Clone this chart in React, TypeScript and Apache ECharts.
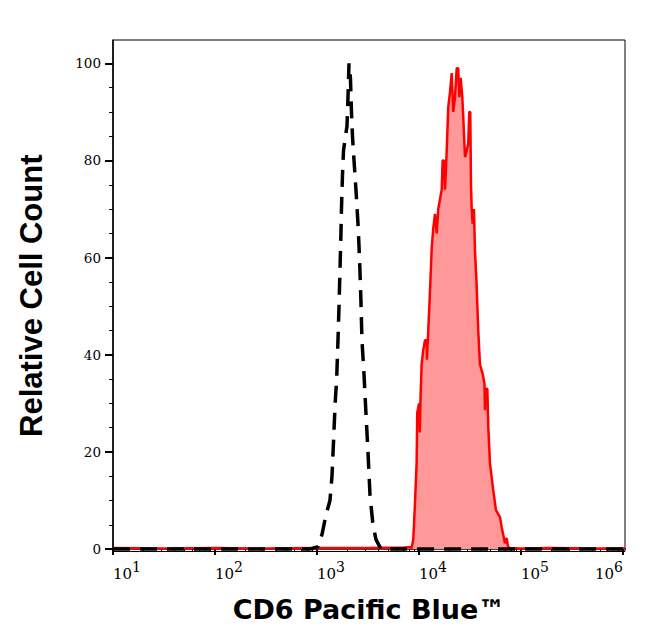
import React, { useEffect, useRef } from "react";
import * as echarts from "echarts";

// x values are log10 of fluorescence intensity (CD6 Pacific Blue); y is relative cell count
const stainedLogX = [1.0, 1.5, 2.0, 2.5, 3.0, 3.5, 3.85, 3.912, 3.928, 3.944, 3.961, 3.977, 3.983, 4.0, 4.008, 4.015, 4.026, 4.042, 4.059, 4.074, 4.078, 4.091, 4.108, 4.125, 4.14, 4.157, 4.174, 4.189, 4.206, 4.223, 4.232, 4.245, 4.255, 4.272, 4.287, 4.304, 4.321, 4.336, 4.353, 4.37, 4.385, 4.395, 4.409, 4.425, 4.434, 4.451, 4.468, 4.483, 4.493, 4.503, 4.51, 4.517, 4.526, 4.539, 4.549, 4.564, 4.581, 4.598, 4.625, 4.642, 4.647, 4.657, 4.67, 4.68, 4.696, 4.728, 4.755, 4.794, 4.811, 4.843, 4.86, 4.873, 4.892, 5.0, 5.3, 5.7, 6.02];
const stainedCount = [0.2, 0.1, 0.2, 0.1, 0.2, 0.2, 0.3, 0.4, 0.2, 2, 9.5, 17.7, 28, 30, 24, 31, 38, 41, 43, 43, 39, 45, 53, 62, 66, 69, 65, 70, 72, 74, 80, 80, 74, 82, 91, 94, 98, 90, 93, 99, 99, 93, 97, 93, 89, 80.7, 82, 83.5, 90, 90, 75, 70, 67, 70, 61.5, 55, 45, 38, 36, 34, 28.6, 33, 33, 25, 17.7, 12.1, 8, 6.6, 4.5, 1.2, 2.3, 0.5, 0.2, 0.1, 0.2, 0.1, 0.1];

const controlLogX = [1.0, 2.0, 2.931, 3.01, 3.049, 3.088, 3.127, 3.147, 3.162, 3.172, 3.181, 3.193, 3.201, 3.206, 3.216, 3.225, 3.235, 3.24, 3.25, 3.26, 3.279, 3.294, 3.304, 3.314, 3.328, 3.338, 3.348, 3.363, 3.382, 3.402, 3.417, 3.431, 3.441, 3.461, 3.48, 3.5, 3.52, 3.549, 3.578, 3.627, 4.5, 5.5, 6.02];
const controlCount = [0, 0, 0, 0.5, 3, 7, 10, 15, 22, 27, 31, 35, 40, 43, 50, 57, 65, 70, 77, 82, 85, 87, 93, 100, 97, 90, 85, 80, 74, 67, 60, 51, 43, 36, 28, 20, 11, 5, 2, 0, 0, 0, 0];

const xMajorTicks = [1, 2, 3, 4, 5, 6];
const yLabelValues = [0, 20, 40, 60, 80, 100];
const yMinorValues = [5, 10, 15, 25, 30, 35, 45, 50, 55, 65, 70, 75, 85, 90, 95];

const xMinorTicks: number[] = [];
for (let d = 1; d <= 5; d++) {
  for (let k = 2; k <= 9; k++) xMinorTicks.push(d + Math.log10(k));
}

const X_MIN = 1;
const X_MAX = 6.02;
const Y_MIN = -0.5;
const Y_MAX = 104.8;

const serif = "'DejaVu Serif', serif";

export default function App() {
  const ref = useRef<HTMLDivElement>(null);
  useEffect(() => {
    if (!ref.current) return;
    const chart = echarts.init(ref.current, null, { renderer: "svg" });
    const stained = stainedLogX.map((x, i) => [x, stainedCount[i]]);
    const control = controlLogX.map((x, i) => [x, controlCount[i]]);
    chart.setOption({
      animation: false,
      backgroundColor: "#fff",
      grid: {
        left: 113,
        right: 21,
        top: 40,
        bottom: 89.5,
        show: true,
        borderColor: "#000",
        borderWidth: 1,
        backgroundColor: "transparent",
      },
      xAxis: [
        {
          type: "value",
          position: "bottom",
          min: X_MIN,
          max: X_MAX,
          splitLine: { show: false },
          axisLine: { show: true, lineStyle: { color: "#000", width: 1.5 } },
          axisTick: { show: true, customValues: xMajorTicks, length: 6, lineStyle: { color: "#000", width: 2 } },
          axisLabel: {
            show: true,
            customValues: xMajorTicks,
            align: "left",
            alignMaxLabel: "right",
            margin: 8,
            formatter: (v: number) => `{b|10}{s|${Math.round(v)}}`,
            rich: {
              b: { fontFamily: serif, fontSize: 15, color: "#000", verticalAlign: "bottom" },
              s: { fontFamily: serif, fontSize: 14, color: "#000", padding: [0, 0, 8, 0] },
            },
          },
          name: "CD6 Pacific Blue™",
          nameLocation: "middle",
          nameGap: 44,
          nameTextStyle: { fontFamily: "'DejaVu Sans', sans-serif", fontWeight: "bold", fontSize: 27, color: "#000" },
        },
        {
          type: "value",
          position: "bottom",
          min: X_MIN,
          max: X_MAX,
          splitLine: { show: false },
          axisLine: { show: false },
          axisTick: { show: true, customValues: xMinorTicks, length: 3, lineStyle: { color: "#000", width: 1 } },
          axisLabel: { show: false },
        },
      ],
      yAxis: [
        {
          type: "value",
          position: "left",
          min: Y_MIN,
          max: Y_MAX,
          splitLine: { show: false },
          axisLine: { show: true, lineStyle: { color: "#000", width: 1.5 } },
          axisTick: { show: true, customValues: yLabelValues, length: 8, lineStyle: { color: "#000", width: 2 } },
          axisLabel: {
            show: true,
            customValues: yLabelValues,
            margin: 12,
            fontFamily: serif,
            fontSize: 13.5,
            color: "#000",
          },
          name: "Relative Cell Count",
          nameLocation: "middle",
          nameRotate: 90,
          nameGap: 66,
          nameTextStyle: {
            fontFamily: "'Liberation Sans', Arial, sans-serif",
            fontWeight: "bold",
            fontSize: 31,
            color: "#000",
          },
        },
        {
          type: "value",
          position: "left",
          min: Y_MIN,
          max: Y_MAX,
          splitLine: { show: false },
          axisLine: { show: false },
          axisTick: { show: true, customValues: yMinorValues, length: 4, lineStyle: { color: "#000", width: 1 } },
          axisLabel: { show: false },
        },
      ],
      series: [
        {
          name: "CD6 Pacific Blue",
          type: "line",
          xAxisIndex: 0,
          yAxisIndex: 0,
          data: stained,
          symbol: "none",
          z: 2,
          lineStyle: { color: "#ff0000", width: 2.5 },
          areaStyle: { color: "#ff9999", opacity: 1 },
        },
        {
          name: "Isotype control",
          type: "line",
          xAxisIndex: 0,
          yAxisIndex: 0,
          data: control,
          symbol: "none",
          z: 3,
          lineStyle: { color: "#000", width: 3.5, type: [17, 10] },
        },
      ],
    });
    return () => chart.dispose();
  }, []);
  return <div ref={ref} style={{ width: 646, height: 641, position: "absolute", left: 0, top: 0 }} />;
}
